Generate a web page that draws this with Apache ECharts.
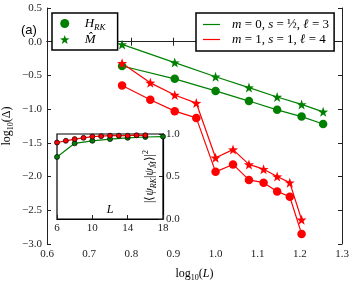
<!DOCTYPE html>
<html>
<head>
<meta charset="utf-8">
<script src="https://cdn.jsdelivr.net/npm/echarts@6/dist/echarts.min.js"></script>
<style>html,body{margin:0;padding:0;background:#fff}#c{width:353px;height:282px}</style>
</head>
<body>
<div id="c"></div>
<script>
// ---- data ----
var L_green = [6, 8, 10, 12, 14, 16, 18];
var L_red = [6, 7, 8, 9, 10, 11, 12, 13, 14, 15, 16];
var greenCircle = [-0.36, -0.55, -0.73, -0.88, -1.01, -1.11, -1.22];
var greenStar = [-0.04, -0.31, -0.52, -0.68, -0.82, -0.93, -1.04];
var redCircle = [-0.65, -0.86, -1.03, -1.13, -1.93, -1.82, -2.05, -2.09, -2.22, -2.30, -2.85];
var redStar = [-0.32, -0.61, -0.79, -0.91, -1.72, -1.60, -1.82, -1.89, -2.00, -2.09, -2.64];
var insetL_red = [6, 7, 8, 9, 10, 11, 12, 13, 14, 15, 16];
var insetRed = [0.90, 0.92, 0.94, 0.955, 0.97, 0.975, 0.98, 0.98, 0.98, 0.985, 0.985];
var insetL_green = [6, 8, 10, 12, 14, 16, 18];
var insetGreen = [0.73, 0.89, 0.92, 0.94, 0.955, 0.965, 0.97];
var xTicks = [0.6, 0.7, 0.8, 0.9, 1.0, 1.1, 1.2, 1.3];
var yTicks = [-3.0, -2.5, -2.0, -1.5, -1.0, -0.5, 0.0, 0.5];
var insetXTicks = [6, 10, 14, 18];
var insetYTicks = [0.0, 0.5, 1.0];

var GREEN = '#008000', RED = '#ff0000';
var STAR = 'path://M0,-10 L2.35,-3.24 L9.51,-3.09 L3.8,1.24 L5.88,8.09 L0,4 L-5.88,8.09 L-3.8,1.24 L-9.51,-3.09 L-2.35,-3.24 Z';
var LINEICON = 'path://M0,0 L20,0 L20,1.4 L0,1.4 Z';
var SERIF = 'Liberation Serif';

function pairs(xs, ys, logx) {
  return xs.map(function (x, i) { return [logx ? Math.log10(x) : x, ys[i]]; });
}
function fmtNum(v) {
  var s = Math.abs(v).toFixed(1);
  return (v < -1e-9 ? '\u2212' : '') + s;
}

var rich = {
  n: { fontFamily: SERIF, fontSize: 12, lineHeight: 16, color: '#000' },
  i: { fontFamily: SERIF, fontStyle: 'italic', fontSize: 12, lineHeight: 16, color: '#000' },
  s: { fontFamily: SERIF, fontSize: 8, lineHeight: 9, verticalAlign: 'bottom', color: '#000' },
  si: { fontFamily: SERIF, fontStyle: 'italic', fontSize: 8, lineHeight: 9, verticalAlign: 'bottom', color: '#000' },
  sup: { fontFamily: SERIF, fontSize: 8, lineHeight: 9, verticalAlign: 'top', color: '#000' }
};
var richL = {
  n: { fontFamily: SERIF, fontSize: 13, lineHeight: 17, color: '#000' },
  i: { fontFamily: SERIF, fontStyle: 'italic', fontSize: 13, lineHeight: 17, color: '#000' },
  si: { fontFamily: SERIF, fontStyle: 'italic', fontSize: 9, lineHeight: 10, verticalAlign: 'bottom', color: '#000' }
};

var axisCommon = {
  axisLine: { show: true, lineStyle: { color: '#222', width: 1 } },
  axisTick: { show: true, inside: true, length: 4, lineStyle: { color: '#222' } },
  splitLine: { show: false },
  axisLabel: { fontFamily: SERIF, fontSize: 11, color: '#222' }
};
function ax(o) { return Object.assign({}, JSON.parse(JSON.stringify(axisCommon)), o); }

var chart = echarts.init(document.getElementById('c'), null, { renderer: 'canvas' });
chart.setOption({
  animation: false,
  backgroundColor: '#fff',
  title: { text: '(a)', left: 16, top: 19, textStyle: { fontFamily: 'Liberation Sans', fontSize: 13, fontWeight: 'normal', color: '#000' } },
  grid: [
    { left: 47, right: 11, top: 8, bottom: 38, containLabel: false, outerBoundsMode: 'none' },
    { left: 57, right: 190, top: 134, bottom: 63, containLabel: false, outerBoundsMode: 'none', show: true, backgroundColor: '#fff', borderColor: '#000', borderWidth: 1.2 }
  ],
  xAxis: [
    ax({ gridIndex: 0, type: 'value', position: 'bottom', min: xTicks[0], max: xTicks[xTicks.length - 1], interval: 0.1,
      axisLabel: { fontFamily: SERIF, fontSize: 11, color: '#222', margin: 5, formatter: function (v) { return v.toFixed(1); } },
      name: '{n|log}{s|10}{n|(}{i|L}{n|)}', nameLocation: 'middle', nameGap: 22, nameMoveOverlap: false, nameTextStyle: { rich: rich } }),
    ax({ gridIndex: 0, type: 'value', position: 'top', min: xTicks[0], max: xTicks[xTicks.length - 1], interval: 0.1, axisLabel: { show: false } }),
    ax({ gridIndex: 1, type: 'value', position: 'bottom', min: insetXTicks[0], max: insetXTicks[insetXTicks.length - 1], interval: 4,
      axisLine: { show: true, lineStyle: { color: '#000', width: 1.2 } },
      axisLabel: { fontFamily: SERIF, fontSize: 11, color: '#222', margin: 4 },
      name: '{i|L}', nameLocation: 'middle', nameGap: -17, nameMoveOverlap: false, nameTextStyle: { rich: rich } })
  ],
  yAxis: [
    ax({ gridIndex: 0, type: 'value', position: 'left', min: yTicks[0], max: yTicks[yTicks.length - 1], interval: 0.5,
      axisLabel: { fontFamily: SERIF, fontSize: 11, color: '#222', margin: 5, formatter: fmtNum },
      name: '{n|log}{s|10}{n|(Δ)}', nameLocation: 'middle', nameGap: 32, nameRotate: 90, nameMoveOverlap: false, nameTextStyle: { rich: rich } }),
    ax({ gridIndex: 0, type: 'value', position: 'right', min: yTicks[0], max: yTicks[yTicks.length - 1], interval: 0.5, axisLabel: { show: false } }),
    ax({ gridIndex: 1, type: 'value', position: 'right', min: insetYTicks[0], max: insetYTicks[insetYTicks.length - 1], interval: 0.5,
      axisLine: { show: true, lineStyle: { color: '#000', width: 1.2 } },
      axisLabel: { fontFamily: SERIF, fontSize: 11, color: '#222', margin: 3, formatter: function (v) { return v.toFixed(1); } },
      name: '{n||⟨}{i|ψ}{si|RK}{n||}{i|ψ}{si|M̂}{n|⟩|}{sup|2}', nameLocation: 'middle', nameGap: -21, nameRotate: 90, nameMoveOverlap: false, nameTextStyle: { rich: rich } })
  ],
  legend: [
    { left: 52, top: 13, orient: 'vertical', padding: [4, 12, 4, 8], itemGap: 1, itemWidth: 16, itemHeight: 9,
      borderColor: '#000', borderWidth: 1.5, backgroundColor: '#fff', borderRadius: 0, selectedMode: false,
      data: [{ name: 'H_RK', icon: 'circle' }, { name: 'M', icon: STAR }],
      formatter: function (n) { return n === 'H_RK' ? '{i|H}{si|RK}' : '{i|M̂}'; },
      textStyle: { rich: richL, padding: [0, 0, 0, 7] } },
    { left: 196, top: 13, orient: 'vertical', padding: [5, 5, 5, 7], itemGap: 2, itemWidth: 17, itemHeight: 10,
      borderColor: '#000', borderWidth: 1.5, backgroundColor: '#fff', borderRadius: 0, selectedMode: false,
      data: [{ name: 'm0', icon: LINEICON }, { name: 'm1', icon: LINEICON }],
      formatter: function (n) { return n === 'm0' ? '{i|m}{n| = 0, }{i|s}{n| = ½, }{i|ℓ}{n| = 3}' : '{i|m}{n| = 1, }{i|s}{n| = 1, }{i|ℓ}{n| = 4}'; },
      textStyle: { rich: richL, padding: [0, 0, 0, 7] } }
  ],
  series: [
    { name: 'H_RK', type: 'line', xAxisIndex: 0, yAxisIndex: 0, data: pairs(L_green, greenCircle, true),
      symbol: 'circle', symbolSize: 8.5, itemStyle: { color: GREEN }, lineStyle: { color: GREEN, width: 1.2 } },
    { name: 'M', type: 'line', xAxisIndex: 0, yAxisIndex: 0, data: pairs(L_green, greenStar, true),
      symbol: STAR, symbolSize: 10, itemStyle: { color: GREEN }, lineStyle: { color: GREEN, width: 1.2 } },
    { name: 'H_RK', type: 'line', xAxisIndex: 0, yAxisIndex: 0, data: pairs(L_red, redCircle, true),
      symbol: 'circle', symbolSize: 8.5, itemStyle: { color: RED }, lineStyle: { color: RED, width: 1.2 } },
    { name: 'M', type: 'line', xAxisIndex: 0, yAxisIndex: 0, data: pairs(L_red, redStar, true),
      symbol: STAR, symbolSize: 10, itemStyle: { color: RED }, lineStyle: { color: RED, width: 1.2 } },
    { name: 'm0', type: 'line', xAxisIndex: 0, yAxisIndex: 0, data: [], symbol: 'none', itemStyle: { color: GREEN }, lineStyle: { color: GREEN, width: 1.3 } },
    { name: 'm1', type: 'line', xAxisIndex: 0, yAxisIndex: 0, data: [], symbol: 'none', itemStyle: { color: RED }, lineStyle: { color: RED, width: 1.3 } },
    { name: 'insetGreen', type: 'line', xAxisIndex: 2, yAxisIndex: 2, data: pairs(insetL_green, insetGreen, false),
      symbol: 'circle', symbolSize: 5, itemStyle: { color: GREEN, borderColor: '#000', borderWidth: 0.7 }, lineStyle: { color: GREEN, width: 1.2 }, z: 5 },
    { name: 'insetRed', type: 'line', xAxisIndex: 2, yAxisIndex: 2, data: pairs(insetL_red, insetRed, false),
      symbol: 'circle', symbolSize: 5, itemStyle: { color: RED, borderColor: '#000', borderWidth: 0.7 }, lineStyle: { color: RED, width: 1.2 }, z: 5 }
  ]
});
</script>
</body>
</html>
